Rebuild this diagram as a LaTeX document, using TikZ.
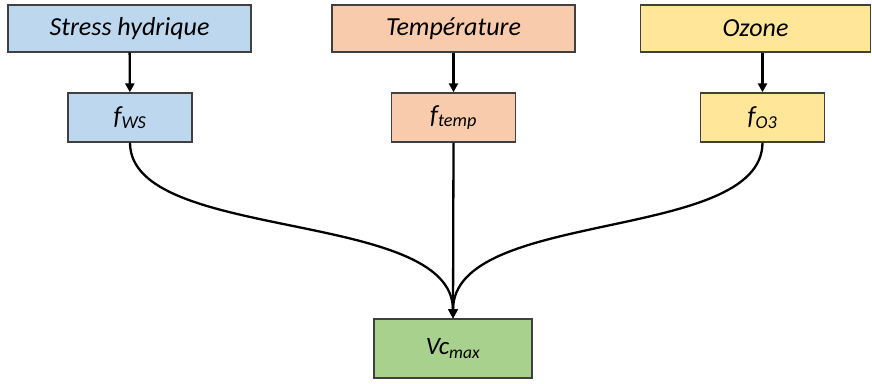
\documentclass[tikz,border=0pt]{standalone}
\usepackage{fontspec}
\setmainfont{Carlito}
\usepackage{tikz}
\usetikzlibrary{arrows.meta,positioning}

\definecolor{wsblue}{HTML}{BDD7EE}
\definecolor{tporange}{HTML}{F8CBAD}
\definecolor{ozyellow}{HTML}{FFE699}
\definecolor{vcgreen}{HTML}{A9D18E}

\begin{document}
\begin{tikzpicture}[x=1pt, y=1pt, >={Triangle[width=9pt, length=9pt]},
  facteur/.style={draw=black!75, line width=1.3pt, minimum height=47pt, inner sep=0pt,
    font=\fontsize{26}{30}\selectfont\itshape},
  fonction/.style={draw=black!75, line width=1.3pt, minimum width=124pt, minimum height=49pt, inner sep=0pt,
    font=\fontsize{26}{30}\selectfont\itshape},
  fleche/.style={->, line width=2.3pt}]
\useasboundingbox (0,0) rectangle (872,383);
% --- facteurs ---
\node[facteur, fill=wsblue, minimum width=243pt] (stress) at (129.5,354.5) {Stress hydrique};
\node[facteur, fill=tporange, minimum width=243pt] (temp) at (453.5,354.5) {Température};
\node[facteur, fill=ozyellow, minimum width=230pt] (ozone) at (755.5,354.5) {Ozone};
% --- fonctions ---
\node[fonction, fill=wsblue] (fws) at (130,265.5) {f\textsubscript{WS}};
\node[fonction, fill=tporange] (ftemp) at (453.5,265.5) {f\textsubscript{temp}};
\node[fonction, fill=ozyellow] (fo3) at (762.5,265.5) {f\textsubscript{O3}};
% --- sortie ---
\node[fonction, fill=vcgreen, minimum width=158pt, minimum height=59pt,
  font=\fontsize{25}{29}\selectfont\itshape] (vcmax) at (453,34.5) {Vc\textsubscript{max}};
% --- fleches ---
\draw[fleche] (stress) -- (fws);
\draw[fleche] (temp) -- (ftemp);
\draw[fleche] (ozone.south -| fo3.north) -- (fo3);
\draw[fleche] (fws.south) .. controls (130,140) and (453,175) .. (vcmax.north);
\draw[fleche] (ftemp.south) -- (vcmax.north);
\draw[fleche] (fo3.south) .. controls (762,140) and (453,175) .. (vcmax.north);
\end{tikzpicture}
\end{document}
